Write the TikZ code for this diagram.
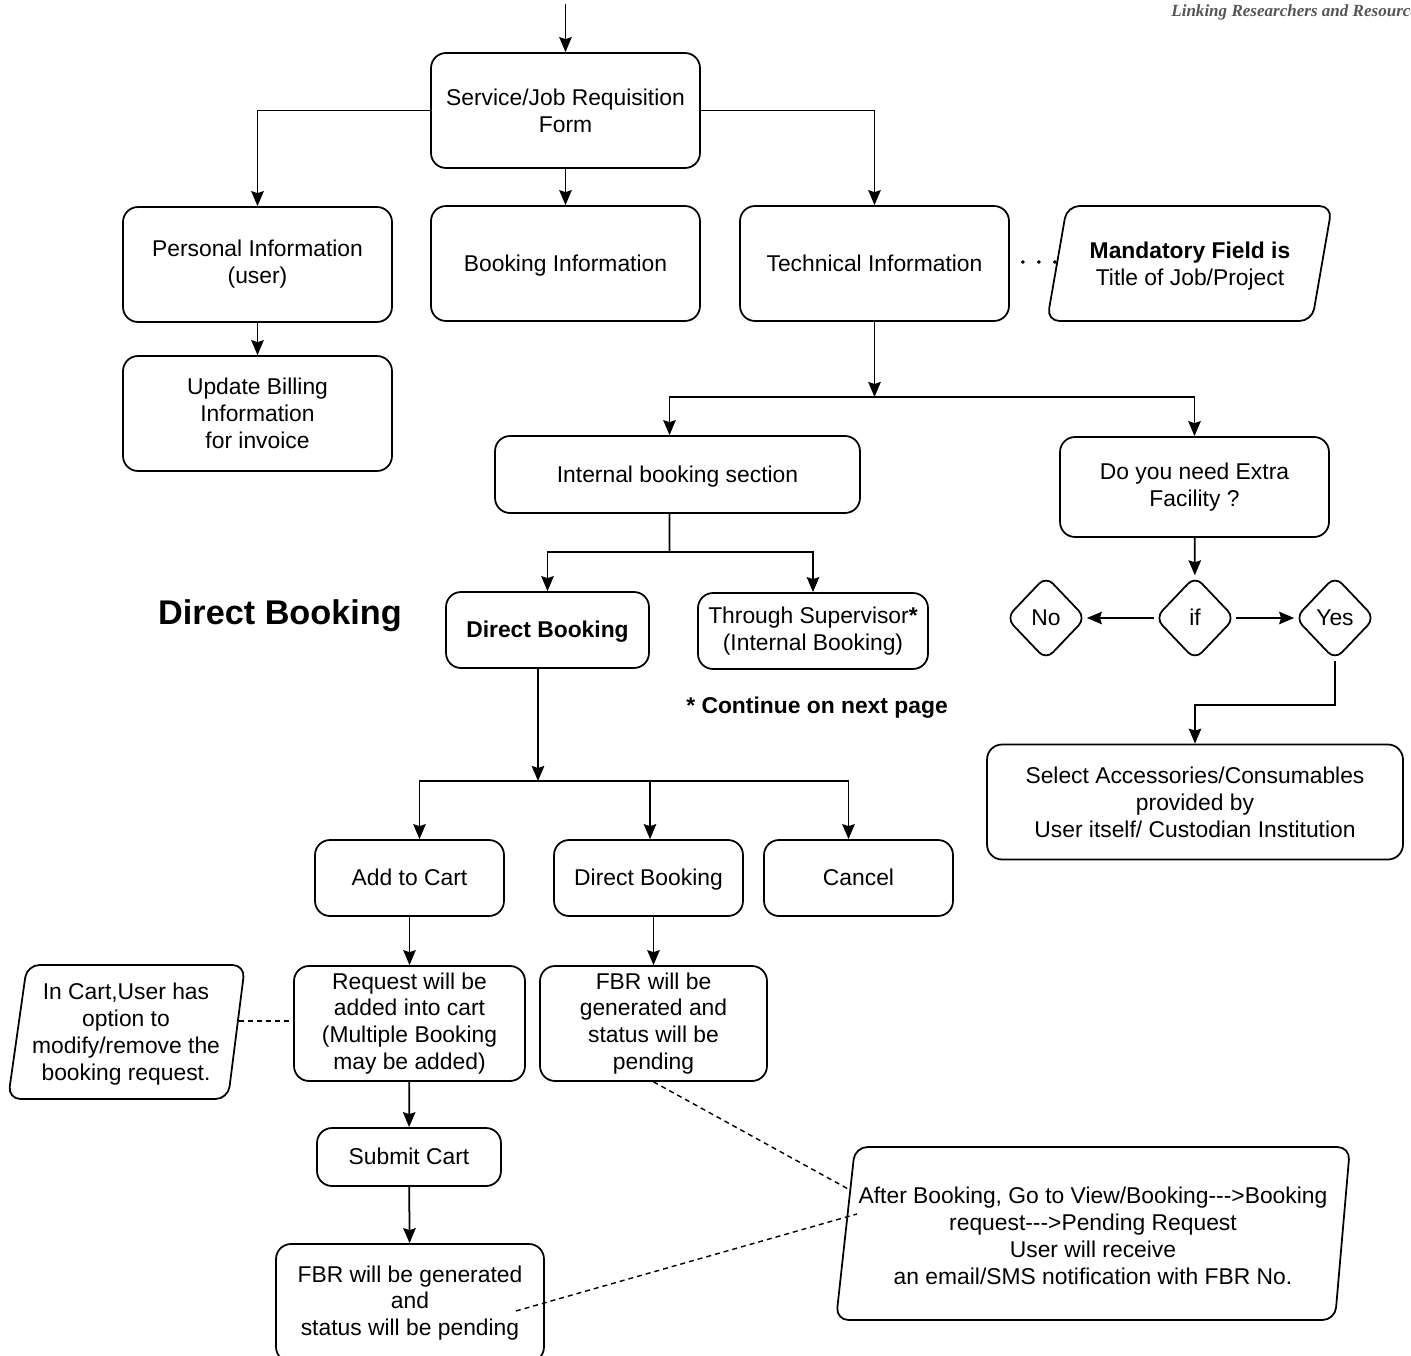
\documentclass[tikz,border=0pt]{standalone}
\usepackage{fontspec}
\setmainfont{Liberation Sans}[Ligatures=TeXOff]
\newfontfamily\tagfont{Liberation Serif}
\usetikzlibrary{positioning, arrows.meta, shapes.geometric, calc}
\definecolor{inkP}{HTML}{000000}
\definecolor{inkM}{HTML}{555555}

\begin{document}
\begin{tikzpicture}[x=0.02cm, y=-0.02cm,
  every node/.style={font=\fontsize{13}{15.3}\selectfont, text=inkP},
  box/.style={draw=inkP, line width=1pt, rounded corners=0.3cm, align=center, inner sep=0pt},
  oneline/.style={text height=1.06em, text depth=0.2em},
  bigbox/.style={box, minimum width=5.38cm, minimum height=2.30cm},
  smallbox/.style={box, oneline, minimum width=3.78cm, minimum height=1.52cm},
  diam/.style={draw=inkP, line width=1pt, diamond, rounded corners=0.2cm, minimum width=1.6cm, minimum height=1.68cm, inner sep=0pt, oneline},
  slant/.style={draw=inkP, line width=1pt, rounded corners=0.25cm},
  txt/.style={align=center, inner sep=0pt},
  arr/.style={draw=inkP, line width=1pt, -{Stealth[length=0.3cm, width=0.25cm, inset=0.04cm]}},
  link/.style={draw=inkP, line width=1pt},
  dashlink/.style={draw=inkP, line width=0.8pt, dash pattern=on 0.1cm off 0.08cm}
]
\useasboundingbox (0,0) rectangle (1411,1356);

% header tag, cut at the page edge
\node[font=\tagfont\fontsize{9.7}{11}\selectfont\bfseries\itshape, text=inkM, anchor=west, inner sep=0pt] (tag) at (1171,12) {Linking Researchers and Resources};

% form and its three sections
\coordinate (top) at (565.5,4);
\node[bigbox] (svc) at (565.5,110.5) {Service/Job Requisition\\Form};
\node[bigbox] (pers) at (257.5,264.5) {Personal Information\\(user)};
\node[bigbox, oneline] (book) at (565.5,263.5) {Booking Information};
\node[bigbox, oneline] (tech) at (874.5,263.5) {Technical Information};
\node[bigbox] (bill) at (257.5,413.5) {Update Billing\\Information\\ for invoice};

\node[txt] (mand) at (1190,266) {\textbf{Mandatory Field is}\\Title of Job/Project};
\draw[slant] (1067,206) -- (1332,206) -- (1312,321) -- (1047,321) -- cycle;
\coordinate (mandL) at (1058,262);

\draw[arr] (top) -- (svc);
\draw[arr] (svc.west) -| (pers);
\draw[arr] (svc) -- (book);
\draw[arr] (svc.east) -| (tech);
\draw[arr] (pers) -- (bill);
\draw[inkP, line width=2.2pt, line cap=round, dash pattern=on 0pt off 0.32cm] ([xshift=0.26cm]tech.east |- mandL) -- (mandL);

% booking sections
\node[box, oneline, minimum width=7.30cm, minimum height=1.54cm] (intl) at (677.5,474.5) {Internal booking section};
\node[box, minimum width=5.38cm, minimum height=2.00cm] (extra) at (1194.5,487) {Do you need Extra\\Facility ?};
\coordinate (jT) at (874.5,397);
\draw[arr] (tech) -- (jT);
\draw[arr] (jT) -| ([xshift=-0.16cm]intl.north);
\draw[arr] (jT) -| (extra);

\node[box, oneline, minimum width=4.06cm, minimum height=1.52cm, font=\fontsize{13}{15.3}\selectfont\bfseries] (dbk) at (547.5,630) {Direct Booking};
\node[box, minimum width=4.60cm, minimum height=1.52cm] (sup) at (813,631) {Through Supervisor\textbf{*}\\(Internal Booking)};
\coordinate (jI) at (669.5,552);
\draw[link] ([xshift=-0.16cm]intl.south) -- (jI);
\draw[arr] (jI) -| (dbk);
\draw[arr] (jI) -| (sup);

\node[font=\fontsize{19.5}{22}\selectfont\bfseries, inner sep=0pt, oneline] (dblabel) at (280,617) {Direct Booking};
\node[font=\fontsize{13}{15.3}\selectfont\bfseries, inner sep=0pt, oneline] (cont) at (817,706) {* Continue on next page};

% extra facility decision
\node[diam] (ifq) at (1195,618) {if};
\node[diam] (no) at (1046,618) {No};
\node[diam] (yes) at (1335,618) {Yes};
\node[box, minimum width=8.32cm, minimum height=2.30cm] (sel) at (1195,802) {Select Accessories/Consumables\\provided by\\User itself/ Custodian Institution};
\draw[arr] (extra) -- (ifq);
\draw[arr] (ifq) -- (no);
\draw[arr] (ifq) -- (yes);
\coordinate (jY) at (1335,705);
\draw[arr] (yes) -- (jY) -| (sel);

% direct booking choices
\node[smallbox] (cart) at (409.5,878) {Add to Cart};
\node[smallbox] (dir2) at (648.5,878) {Direct Booking};
\node[smallbox] (cncl) at (858.5,878) {Cancel};
\coordinate (jD) at (538,781);
\draw[arr] (dbk.south -| jD) -- (jD);
\foreach \t/\dx in {cart/0.2cm, dir2/0.03cm, cncl/-0.2cm}
  \draw[arr] (jD) -| ([xshift=\dx]\t.north);

\node[box, minimum width=4.62cm, minimum height=2.30cm] (req) at (409.5,1023.5) {Request will be\\added into cart\\(Multiple Booking\\may be added)};
\node[box, minimum width=4.54cm, minimum height=2.30cm] (fbr) at (653.5,1023.5) {FBR will be\\generated and\\status will be\\pending};
\node[box, oneline, minimum width=3.68cm, minimum height=1.16cm] (sub) at (409,1157) {Submit Cart};
\node[box, minimum width=5.36cm, minimum height=2.36cm] (fbr2) at (410,1303) {FBR will be generated\\and\\status will be pending};
\draw[arr] (cart) -- (req);
\draw[arr] (dir2.south -| fbr) -- (fbr);
\draw[arr] (req) -- (sub);
\draw[arr] (sub) -- (fbr2);

% notes
\node[txt] (note) at (126,1034) {In Cart,User has\\option to\\modify/remove the\\booking request.};
\draw[slant] (27,965) -- (245,965) -- (228,1099) -- (8,1099) -- cycle;
\coordinate (noteR) at (239,1021);
\draw[dashlink] (noteR) -- (req.west |- noteR);

\node[txt] (after) at (1093,1236) {After Booking, Go to View/Booking--->Booking\\request--->Pending Request\\User will receive\\an email/SMS notification with FBR No.};
\draw[slant] (855,1147) -- (1350,1147) -- (1335,1320) -- (836,1320) -- cycle;
\coordinate (afterA) at (850,1190);
\coordinate (afterB) at (857,1214);
\draw[dashlink] (fbr.south) -- (afterA);
\draw[dashlink] ([xshift=-0.58cm, yshift=-0.16cm]fbr2.east) -- (afterB);
\end{tikzpicture}
\end{document}
